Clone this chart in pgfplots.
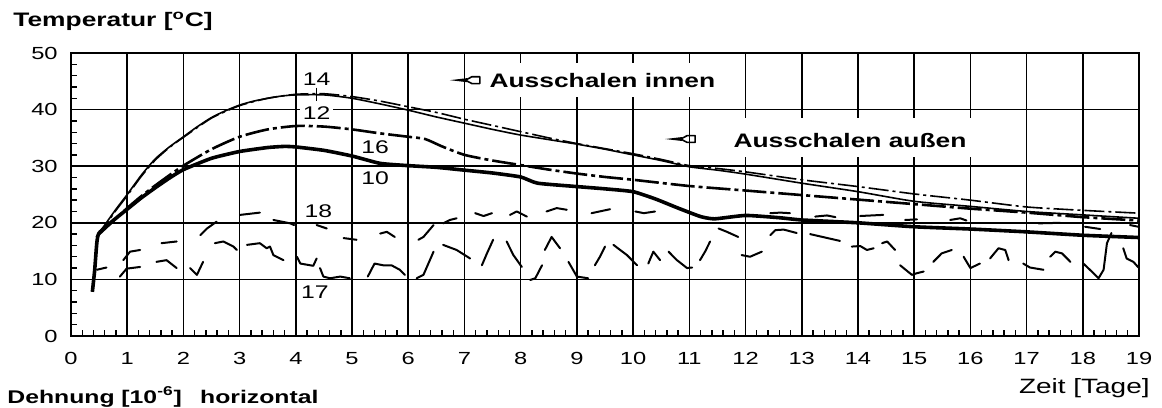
\documentclass[border=0pt]{standalone}
\usepackage{fontspec}
\setmainfont[FakeStretch=1.35]{Liberation Sans}
\usepackage{pgfplots}
\pgfplotsset{compat=1.18}
\begin{document}
\begin{tikzpicture}
\begin{axis}[
  width=534bp, height=141.5bp, scale only axis,
  xmin=0, xmax=19, ymin=0, ymax=50,
  xtick={0,...,19}, ytick={0,10,...,50},
  minor x tick num=4, minor y tick num=4,
  tick align=inside, tick pos=left,
  major tick length=0pt, minor tick length=2.8bp,
  tick style={black, line width=0.7bp},
  grid=major, major grid style={black, line width=0.8bp},
  axis line style={black, line width=1.1bp},
  /pgf/number format/assume math mode=true,
  ticklabel style={font=\fontsize{8.8}{10}\selectfont},
  xticklabel style={anchor=north, inner sep=0pt, yshift=-7.8bp},
  yticklabel style={anchor=east, inner sep=0pt, xshift=-6.5bp},
  unbounded coords=jump,
  clip=false,
]
% 14 thin solid
\addplot[black, line width=0.8bp, smooth, tension=0.4] coordinates {
(0.45,17.5) (0.6,19.6) (0.8,22.4) (1.0,25.0) (1.25,28.4) (1.5,31.3) (1.75,33.4) (2.0,35.2) (2.25,37.0) (2.5,38.6) (2.75,39.8) (3.0,40.8) (3.25,41.5) (3.5,42.0) (3.75,42.4) (4.0,42.6) (4.5,42.6) (5.0,42.0) (5.5,41.0) (6.0,39.9) (6.5,38.7) (7.0,37.6) (7.5,36.5) (8.0,35.5) (8.5,34.7) (9.0,33.9) (9.5,33.0) (10.0,32.0) (10.5,31.0) (11.0,29.9) (11.5,29.3) (12.0,28.6) (13.0,27.0) (14.0,25.5) (15.0,23.8) (16.0,22.9) (17.0,22.0) (18.0,21.4) (19.0,20.8)};
% 12 dash-dot
\addplot[black, line width=0.8bp, smooth, tension=0.4, dash pattern=on 10bp off 2bp on 1.5bp off 2bp] coordinates {
(0.45,17.5) (0.6,19.4) (0.8,22.2) (1.0,24.8) (1.25,28.2) (1.5,31.1) (1.75,33.3) (2.0,35.1) (2.5,38.5) (3.0,40.7) (3.5,42.0) (4.0,42.7) (4.5,42.8) (5.0,42.3) (5.5,41.5) (6.0,40.5) (6.5,39.5) (7.0,38.3) (7.5,37.2) (8.0,36.1) (8.5,35.0) (9.0,34.0) (9.5,33.1) (10.0,32.2) (10.5,31.2) (11.0,30.1) (11.5,29.6) (12.0,29.0) (13.0,27.6) (14.0,26.4) (15.0,25.1) (16.0,24.0) (17.0,22.8) (18.0,22.2) (19.0,21.7)};
% 16 heavy dash-dot
\addplot[black, line width=1.3bp, smooth, tension=0.4, dash pattern=on 12bp off 2bp on 2bp off 2bp] coordinates {
(0.48,17.8) (0.75,20.3) (1.0,22.6) (1.25,24.7) (1.5,26.6) (1.75,28.4) (2.0,30.1) (2.5,33.0) (3.0,35.2) (3.5,36.5) (4.0,37.1) (4.5,37.0) (5.0,36.5) (5.5,35.8) (6.0,35.2) (6.3,34.8) (6.6,33.5) (7.0,32.0) (7.5,31.0) (8.0,30.2) (8.5,29.4) (9.0,28.7) (9.5,28.1) (10.0,27.6) (11.0,26.5) (12.0,25.7) (13.0,24.9) (14.0,24.1) (15.0,23.3) (16.0,22.5) (17.0,21.8) (18.0,21.0) (19.0,20.4)};
% 10 thick solid
\addplot[black, line width=1.8bp, smooth, tension=0.3, line join=round] coordinates {
(0.38,7.8) (0.42,11.5) (0.46,16.5) (0.5,18.2) (0.75,20.4) (1.0,22.4) (1.25,24.4) (1.5,26.2) (1.75,27.9) (2.0,29.4) (2.5,31.4) (3.0,32.6) (3.5,33.3) (3.8,33.5) (4.0,33.4) (4.5,32.8) (5.0,31.8) (5.5,30.5) (6.0,30.1) (6.5,29.8) (7.0,29.3) (7.5,28.8) (8.0,28.1) (8.3,27.0) (9.0,26.4) (9.5,26.0) (10.0,25.5) (10.4,24.2) (10.8,22.6) (11.2,21.1) (11.45,20.7) (12.0,21.3) (12.6,20.9) (13.0,20.5) (14.0,20.0) (15.0,19.3) (16.0,18.9) (17.0,18.4) (18.0,17.8) (19.0,17.4)};
% 18 broken
\addplot[black, line width=1bp, line join=round, line cap=round] coordinates {
(0.93,13.4) (1.05,14.9) (1.23,15.2) (1.3,nan)
(1.61,16.4) (1.88,16.7) (1.9,nan)
(2.30,17.8) (2.42,19.0) (2.59,20.2) (2.6,nan)
(3.01,21.4) (3.36,21.8) (3.4,nan)
(3.60,20.5) (3.90,19.9) (3.97,19.6) (4.0,nan)
(4.37,19.6) (4.55,19.0) (4.6,nan)
(4.85,17.3) (5.08,17.0) (5.1,nan)
(5.50,18.1) (5.62,18.4) (5.76,17.5) (5.8,nan)
(6.18,17.0) (6.27,17.5) (6.45,19.6) (6.5,nan)
(6.62,19.9) (6.74,20.5) (6.86,20.8) (6.9,nan)
(7.19,21.7) (7.34,21.2) (7.49,21.7) (7.5,nan)
(7.81,21.4) (7.93,22.0) (8.11,21.1) (8.2,nan)
(8.46,22.0) (8.64,22.6) (8.82,22.3) (8.9,nan)
(9.26,21.7) (9.59,22.4) (9.6,nan)
(10.04,22.0) (10.19,21.7) (10.39,22.0) (10.4,nan)
(11.52,19.0) (11.67,18.4) (11.87,17.5) (11.9,nan)
(12.44,21.7) (12.62,21.8) (12.79,21.7) (12.8,nan)
(13.24,21.1) (13.45,21.3) (13.60,21.0) (13.7,nan)
(14.04,21.2) (14.45,21.4) (14.5,nan)
(14.84,20.5) (15.05,20.6) (15.1,nan)
(15.64,20.5) (15.82,20.8) (15.93,20.4) (16.0,nan)
(17.21,19.9) (17.60,20.0) (17.7,nan)
(18.04,19.3) (18.31,18.9) (18.4,nan)
(18.84,19.6) (18.99,19.3)};
% 17 broken
\addplot[black, line width=1bp, line join=round, line cap=round] coordinates {
(0.46,11.7) (0.63,12.1) (0.7,nan)
(0.87,10.5) (0.99,11.9) (1.23,12.2) (1.3,nan)
(1.52,13.1) (1.70,13.4) (1.88,12.0) (1.9,nan)
(2.12,12.0) (2.24,10.8) (2.35,13.1) (2.4,nan)
(2.56,16.4) (2.71,16.7) (2.89,15.8) (2.95,15.2) (3.0,nan)
(3.13,16.1) (3.36,16.4) (3.48,15.5) (3.54,15.8) (3.60,14.3) (3.78,13.4) (3.8,nan)
(4.02,14.0) (4.08,12.8) (4.31,12.4) (4.37,13.7) (4.4,nan)
(4.43,12.0) (4.49,10.5) (4.61,10.2) (4.79,10.5) (4.96,10.2) (5.0,nan)
(5.28,10.5) (5.40,12.8) (5.55,12.5) (5.70,12.5) (5.85,11.7) (5.94,10.8) (6.0,nan)
(6.15,10.2) (6.27,10.8) (6.45,14.9) (6.5,nan)
(6.62,16.1) (6.86,15.2) (7.10,13.7) (7.2,nan)
(7.31,12.5) (7.40,14.6) (7.51,17.0) (7.6,nan)
(7.75,16.7) (7.87,14.3) (8.02,12.2) (8.1,nan)
(8.17,9.9) (8.26,10.2) (8.38,12.5) (8.4,nan)
(8.43,15.2) (8.55,17.5) (8.70,15.5) (8.8,nan)
(8.85,13.1) (9.00,10.5) (9.20,10.2) (9.3,nan)
(9.32,12.5) (9.41,14.0) (9.50,15.8) (9.6,nan)
(9.65,16.1) (9.89,14.3) (10.07,12.5) (10.1,nan)
(10.27,12.8) (10.36,14.9) (10.48,13.4) (10.5,nan)
(10.63,14.9) (10.78,13.4) (10.96,12.0) (11.05,12.1) (11.1,nan)
(11.19,13.4) (11.28,14.9) (11.37,16.7) (11.4,nan)
(11.93,14.3) (12.08,14.0) (12.29,14.9) (12.3,nan)
(12.44,17.8) (12.53,18.7) (12.68,18.8) (12.91,18.2) (13.0,nan)
(13.15,18.0) (13.68,16.8) (13.7,nan)
(13.89,15.8) (14.04,15.9) (14.16,15.2) (14.28,15.5) (14.3,nan)
(14.43,16.4) (14.52,16.7) (14.66,15.2) (14.7,nan)
(14.75,12.5) (14.96,10.8) (15.05,11.1) (15.17,11.4) (15.2,nan)
(15.34,13.1) (15.49,14.6) (15.67,15.2) (15.7,nan)
(15.88,14.0) (16.00,12.0) (16.17,12.8) (16.2,nan)
(16.35,13.7) (16.50,15.5) (16.62,15.2) (16.68,13.4) (16.7,nan)
(16.94,12.8) (17.06,12.1) (17.30,11.7) (17.35,nan)
(17.42,14.0) (17.51,14.9) (17.63,14.6) (17.78,13.1) (17.9,nan)
(18.01,12.8) (18.19,11.1) (18.28,10.2) (18.37,11.7) (18.43,16.4) (18.51,18.2) (18.6,nan)
(18.72,15.5) (18.78,13.7) (18.90,13.1) (18.99,12.1)};
% masks for label areas (grid interrupted)
\fill[white] (axis cs:7.37,42.2) rectangle (axis cs:11.64,48.2);
\fill[white] (axis cs:11.69,31.6) rectangle (axis cs:16.14,38.5);
\node[anchor=west, inner sep=0pt, font=\bfseries\fontsize{9.8}{12}\selectfont] at (axis cs:7.44,45.2) {Ausschalen innen};
\node[anchor=west, inner sep=0pt, font=\bfseries\fontsize{9.8}{12}\selectfont] at (axis cs:11.78,34.6) {Ausschalen außen};
% curve labels
\node[inner sep=0pt, font=\fontsize{9.2}{10}\selectfont] at (axis cs:4.37,45.3) {14};
\draw[line width=0.6bp] (axis cs:4.37,43.9) -- (axis cs:4.37,41.6);
\node[fill=white, inner sep=1.5bp, font=\fontsize{9.2}{10}\selectfont] at (axis cs:4.37,39.3) {12};
\node[inner sep=0pt, font=\fontsize{9.2}{10}\selectfont] at (axis cs:5.41,33.4) {16};
\node[inner sep=0pt, font=\fontsize{9.2}{10}\selectfont] at (axis cs:5.41,27.9) {10};
\node[inner sep=0pt, font=\fontsize{9.2}{10}\selectfont] at (axis cs:4.40,22.0) {18};
\node[inner sep=0pt, font=\fontsize{9.2}{10}\selectfont] at (axis cs:4.34,7.8) {17};
\coordinate (ai) at (axis cs:6.74,45.2);
\coordinate (aa) at (axis cs:10.57,34.8);
\end{axis}
% arrows
\foreach \p in {ai,aa}{
  \begin{scope}[shift={(\p)}]
    \fill (0,0) -- (8.5bp,1bp) -- (8.5bp,-1bp) -- cycle;
    \draw[line width=0.8bp, line join=round] (7.8bp,0) -- (11bp,1.7bp) -- (15bp,1.7bp) -- (15bp,-1.7bp) -- (11bp,-1.7bp) -- cycle;
  \end{scope}
}
\node[anchor=base west, inner sep=0pt, font=\bfseries\fontsize{9.8}{12}\selectfont] at (-29bp,154.5bp) {Temperatur [\textsuperscript{o}C]};
\node[anchor=base east, inner sep=0pt, font=\fontsize{10.4}{12}\selectfont] at (539.5bp,-28.5bp) {Zeit [Tage]};
\node[anchor=base west, inner sep=0pt, font=\bfseries\fontsize{9.2}{11}\selectfont] at (-32bp,-33.5bp) {Dehnung [10\textsuperscript{-6}]\quad horizontal};
\pgfresetboundingbox
\useasboundingbox (-35.5bp,-36bp) rectangle (545.5bp,168bp);
\end{tikzpicture}
\end{document}
